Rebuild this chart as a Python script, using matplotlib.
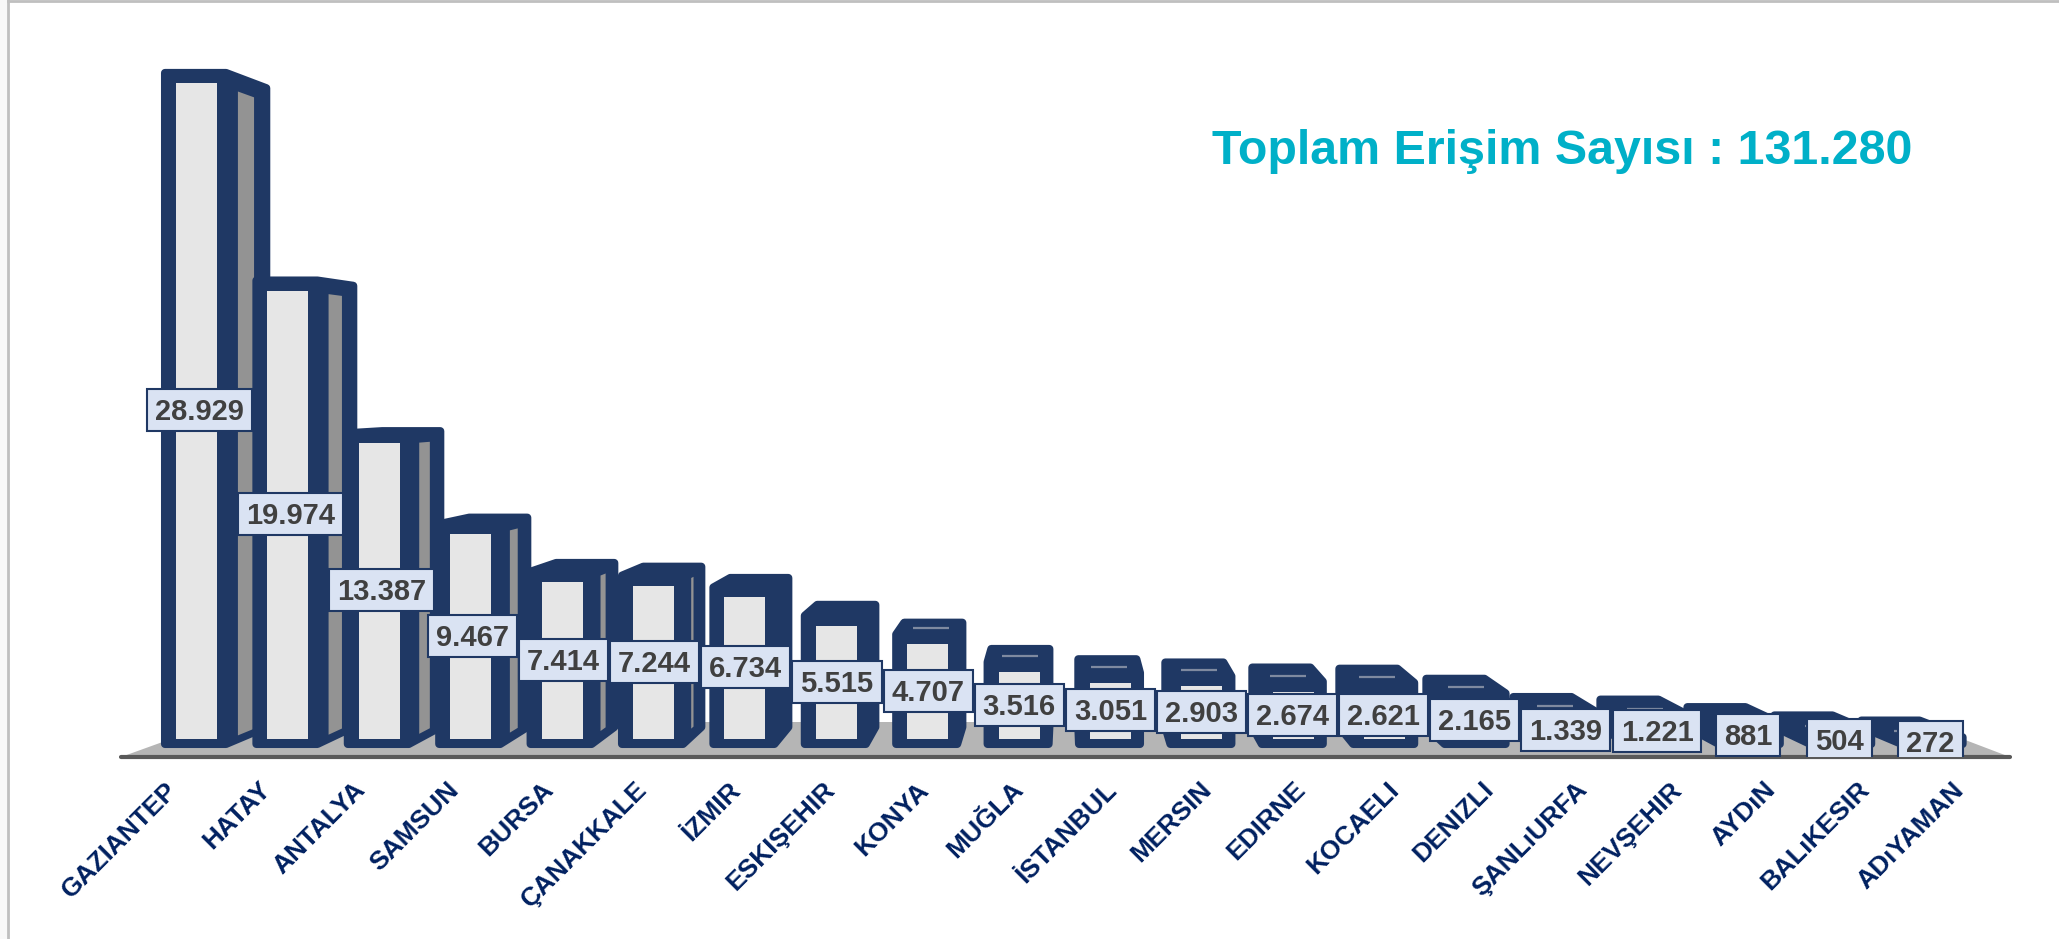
#!/usr/bin/env python3
# Toplam erisim sayisi - il bazinda
import matplotlib
matplotlib.use('Agg')
import matplotlib.pyplot as plt
from matplotlib.patches import Polygon, Rectangle
from matplotlib.lines import Line2D
from matplotlib.transforms import ScaledTranslation

cities = ['GAZIANTEP', 'HATAY', 'ANTALYA', 'SAMSUN', 'BURSA', 'ÇANAKKALE', 'İZMIR',
          'ESKIŞEHIR', 'KONYA', 'MUĞLA', 'İSTANBUL', 'MERSIN', 'EDIRNE', 'KOCAELI',
          'DENIZLI', 'ŞANLıURFA', 'NEVŞEHIR', 'AYDıN', 'BALıKESIR', 'ADıYAMAN']
values = [28929, 19974, 13387, 9467, 7414, 7244, 6734, 5515, 4707, 3516,
          3051, 2903, 2674, 2621, 2165, 1339, 1221, 881, 504, 272]
value_labels = ['28.929', '19.974', '13.387', '9.467', '7.414', '7.244', '6.734',
                '5.515', '4.707', '3.516', '3.051', '2.903', '2.674', '2.621',
                '2.165', '1.339', '1.221', '881', '504', '272']
title = 'Toplam Erişim Sayısı : 131.280'

NAVY = '#1f3864'
LIGHT = '#e6e6e6'
SIDE = '#939393'
FLOOR = '#b5b5b5'

W, H = 2059, 939
PX_PER_X = 91.4
PX_PER_Y = 0.02318


# pixel sizes to data units
def dx(px):
    return px / PX_PER_X


def dy(px):
    return px / PX_PER_Y


def hull(points):
    pts = sorted(set(points))

    def half(seq):
        out = []
        for p in seq:
            while len(out) > 1 and ((out[-1][0] - out[-2][0]) * (p[1] - out[-2][1])
                                    - (out[-1][1] - out[-2][1]) * (p[0] - out[-2][0])) <= 0:
                out.pop()
            out.append(p)
        return out[:-1]
    return half(pts) + half(pts[::-1])


plt.rcParams['font.family'] = ['Liberation Sans', 'DejaVu Sans']
fig = plt.figure(figsize=(W / 100, H / 100), dpi=100, facecolor='white')

# axes runs along the floor line of the chart
ax = fig.add_axes([121 / W, 1 - 757 / H, (2010 - 121) / W, (757 - 30) / H])
ax.set_xlim((121 - 196.5) / PX_PER_X, (2010 - 196.5) / PX_PER_X)
ax.set_ylim(dy(753.5 - 757), dy(753.5 - 30))
ax.patch.set_visible(False)
for s in ['top', 'left', 'right']:
    ax.spines[s].set_visible(False)
ax.spines['bottom'].set_color('#595959')
ax.spines['bottom'].set_linewidth(3)
ax.spines['bottom'].set_capstyle('round')
ax.set_yticks([])

# perspective: everything shrinks towards this point
vx, vy = 9.5, dy(753.5 - 390)
depth = 0.048
front_bottom = dy(753.5 - 748)
light_bottom = dy(753.5 - 739)


def back(x, y):
    return x + depth * (vx - x), y + depth * (vy - y)


# floor
x0, x1 = ax.get_xlim()
y0 = ax.get_ylim()[0]
floor_top = dy(753.5 - 722)
ax.add_patch(Polygon([(x0, y0), (x1, y0), (x1 - dx(92), floor_top), (x0 + dx(97), floor_top)],
                     closed=True, facecolor=FLOOR, edgecolor='none', zorder=1))

renderer = fig.canvas.get_renderer()

for i, v in enumerate(values):
    z = 3 + i * 0.1
    # outer shape of the box, round joins give the soft corners
    left = i - dx(35.5) + dx(4)
    right = i + dx(33.5) - dx(4)
    top = v + dy(14) - dy(4)
    bottom = front_bottom + dy(4)
    corners = [(left, top), (right, top), (left, bottom), (right, bottom)]
    corners += [back(px, py) for px, py in corners]
    ax.add_patch(Polygon(hull(corners), closed=True, facecolor=NAVY, edgecolor=NAVY,
                         linewidth=5.8, joinstyle='round', zorder=z))

    # grey side face, only on bars left of the vanishing point
    lr = i + dx(20.5)
    if lr < vx:
        s = depth * (vx - lr) * PX_PER_X
        gx0 = lr + dx(14 + 0.17 * s)
        gx1 = lr + dx(13 + s - (8.5 + 0.2 * s))
        if gx1 > gx0:
            st = (vy - v) / (vx - lr)
            sb = (vy - light_bottom) / (vx - lr)
            ax.add_patch(Polygon([(gx0, v + st * (gx0 - lr) - dy(1)),
                                  (gx1, v + st * (gx1 - lr) - dy(1)),
                                  (gx1, light_bottom + sb * (gx1 - lr) - dy(5)),
                                  (gx0, light_bottom + sb * (gx0 - lr) - dy(5))],
                                 closed=True, facecolor=SIDE, edgecolor='none', zorder=z + 0.01))

    # thin line on the top face of the low bars
    rise = depth * (vy - (v + dy(7)))
    if rise >= dy(11):
        mid = i + depth / 2 * (vx - i)
        ax.plot([mid - dx(18), mid + dx(18)], [v + dy(16), v + dy(16)], color='#7f8aa0',
                linewidth=1.6, solid_capstyle='butt', zorder=z + 0.01)

    # front face
    if v > light_bottom:
        ax.bar(i, v - light_bottom, width=dx(41), bottom=light_bottom, color=LIGHT, zorder=z + 0.02)

    # value label, box is built from the text width so its height can stay fixed
    lx = i + (9.5 - i) * 0.003
    ly = v / 2 + dy(8)
    t = ax.text(lx, ly - dy(10), value_labels[i], ha='center', va='baseline',
                fontsize=21, fontweight='bold', color='#404040', zorder=20 + i * 0.1 + 0.01)
    box_w = dx(t.get_window_extent(renderer).width + 16)
    ax.add_patch(Rectangle((lx - box_w / 2, ly - dy(21)), box_w, dy(42), facecolor='#dae3f3',
                           edgecolor=NAVY, linewidth=1.5, zorder=20 + i * 0.1))

# city names, they sit a bit wider apart than the bars
ax.set_xticks(range(len(cities)))
ax.set_xticklabels(cities, rotation=45, ha='right', va='center', rotation_mode='anchor',
                   fontsize=19, fontweight='bold', color='#002060')
ax.tick_params(axis='x', length=0, pad=0)
for i, lab in enumerate(ax.get_xticklabels()):
    shift = ScaledTranslation((-23.4 + 2.63 * i) / 100, -29 / 100, fig.dpi_scale_trans)
    lab.set_transform(lab.get_transform() + shift)
    lab.set_va('center')

fig.text(1212 / W, 1 - 164 / H, title, ha='left', va='baseline', fontsize=34.8,
         fontweight='bold', color='#00b0c8')

# frame of the pasted picture
fig.add_artist(Rectangle((0, 0), 7 / W, 1, transform=fig.transFigure, facecolor='#f8f8f8', edgecolor='none'))
fig.add_artist(Line2D([8 / W, 8 / W], [0, 1], color='#bfbfbf', linewidth=2))
fig.add_artist(Line2D([8 / W, 1], [1 - 1 / H, 1 - 1 / H], color='#bfbfbf', linewidth=2))

fig.savefig('out.png', dpi=100)
